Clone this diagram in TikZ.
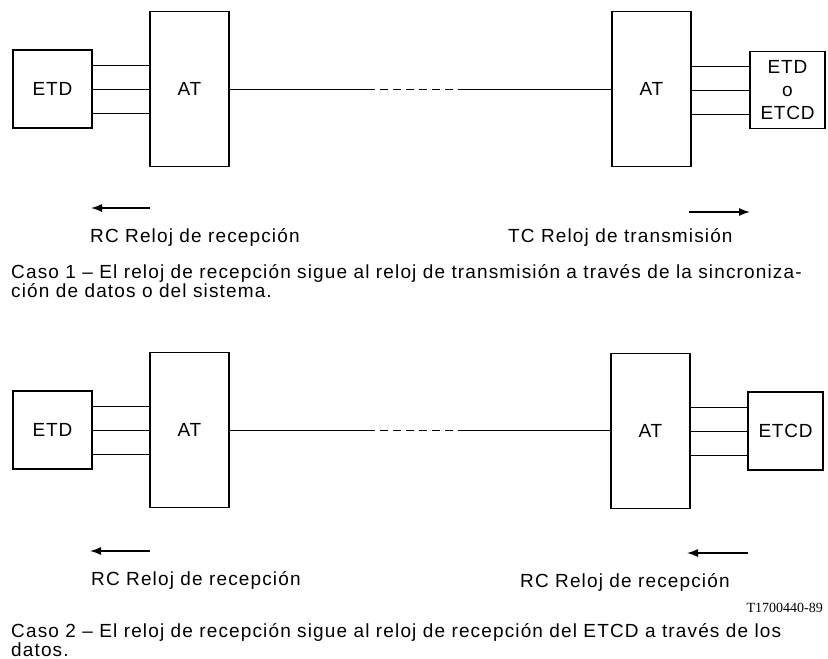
\documentclass[tikz,border=0pt]{standalone}
\usepackage{fontspec}
\setmainfont{Liberation Sans}
\newfontfamily\lblfont[LetterSpace=6]{Liberation Sans}
\newfontfamily\boxfont[LetterSpace=4]{Liberation Sans}
\newfontfamily\capfont[LetterSpace=6]{Liberation Sans}
\newfontfamily\refnum{Liberation Serif}
\usetikzlibrary{arrows.meta}
\usetikzlibrary{math}

\tikzset{
  unit/.style={draw, line width=1.1pt, inner sep=0pt, align=center,
    font=\boxfont\fontsize{19}{23}\selectfont},
  wire/.style={line width=0.9pt},
  gapline/.style={line width=0.9pt, dash pattern=on 8pt off 5pt, dash phase=8pt},
  clk/.style={-{Latex[length=11pt,width=8pt]}, line width=1.4pt},
  lbl/.style={anchor=base west, inner sep=0pt, font=\lblfont\fontsize{19}{22}\selectfont},
  caption/.style={anchor=base west, inner sep=0pt, align=left,
    font=\capfont\fontsize{19}{19}\selectfont}
}

\begin{document}
\begin{tikzpicture}[x=1pt,y=-1pt]
\tikzmath{
\wat=79;
\hat=155;
\yb=341;
}
\useasboundingbox (0,0) rectangle (828,659);

% Caso 1
\node[unit, minimum width=\wat, minimum height=78] (etd1) at (52.5,89) {ETD};
\node[unit, minimum width=\wat, minimum height=\hat] (at1l) at (189.5,89) {AT};
\node[unit, minimum width=\wat, minimum height=\hat] (at1r) at (651.5,89) {AT};
\node[unit, minimum width=75, minimum height=77] (dce1) at (787.5,90) {ETD\\o\\ETCD};
\foreach \d in {-24,0,24}{
  \draw[wire] ([yshift=\d]etd1.east) -- ([yshift=\d]at1l.west);
  \draw[wire] ([yshift=\d]at1r.east |- dce1.west) -- ([yshift=\d]dce1.west);
}
\coordinate (gap1a) at (375,89);
\coordinate (gap1b) at (463,89);
\draw[wire] (at1l.east) -- (gap1a);
\draw[gapline] (gap1a) -- (gap1b);
\draw[wire] (gap1b) -- (at1r.west);

\coordinate (rc1a) at (150,208);
\coordinate (rc1b) at (91,208);
\coordinate (tc1a) at (689,212);
\coordinate (tc1b) at (750,212);
\draw[clk] (rc1a) -- (rc1b);
\draw[clk] (tc1a) -- (tc1b);
\node[lbl] (rc1) at (90,242) {RC Reloj de recepción};
\node[lbl] (tc1) at (508,242) {TC Reloj de transmisión};

\node[caption] (cas1) at (11,297) {Caso 1 – El reloj de recepción sigue al reloj de transmisión a través de la sincroniza-\\ción de datos o del sistema.};

% Caso 2
\begin{scope}[shift={(0,\yb)}]
\node[unit, minimum width=\wat, minimum height=78] (etd2) at (52.5,89) {ETD};
\node[unit, minimum width=\wat, minimum height=\hat] (at2l) at (189.5,89) {AT};
\node[unit, minimum width=\wat, minimum height=\hat] (at2r) at (650.5,90) {AT};
\node[unit, minimum width=75, minimum height=78] (dce2) at (785.5,90) {ETCD};
\foreach \d in {-24,0,24}{
  \draw[wire] ([yshift=\d]etd2.east) -- ([yshift=\d]at2l.west);
  \draw[wire] ([yshift=\d]at2r.east) -- ([yshift=\d]dce2.west);
}
\coordinate (gap2a) at (375,89);
\coordinate (gap2b) at (463,89);
\draw[wire] (at2l.east) -- (gap2a);
\draw[gapline] (gap2a) -- (gap2b);
\draw[wire] (gap2b) -- (at2r.west |- gap2b);

\coordinate (rc2a) at (150,210);
\coordinate (rc2b) at (90,210);
\coordinate (rc3a) at (748,212);
\coordinate (rc3b) at (687,212);
\draw[clk] (rc2a) -- (rc2b);
\draw[clk] (rc3a) -- (rc3b);
\node[lbl] (rc2) at (91,244) {RC Reloj de recepción};
\node[lbl] (rc3) at (520,246) {RC Reloj de recepción};
\end{scope}

\node[anchor=base east, inner sep=0pt, font=\refnum\fontsize{14}{16}\selectfont] (ref) at (823,612) {T1700440-89};
\node[caption] (cas2) at (11,656) {Caso 2 – El reloj de recepción sigue al reloj de recepción del ETCD a través de los\\datos.};
\end{tikzpicture}
\end{document}
